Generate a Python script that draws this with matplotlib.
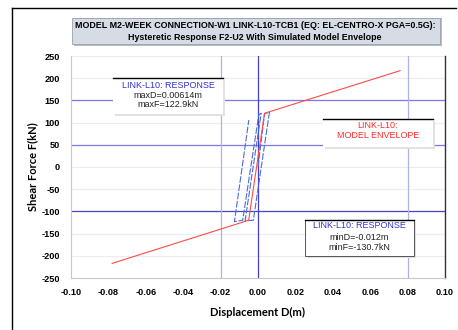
import matplotlib
matplotlib.use("Agg")
import matplotlib.pyplot as plt
from matplotlib.lines import Line2D
from matplotlib.patches import Rectangle

# ---------------- data ----------------
env_D = [-0.078, -0.005, 0.0035, 0.076]
env_F = [-217, -120, 121, 217]

hyst_D = [0.0, 0.0035, 0.0061, -0.0025, -0.0069, 0.0017, 0.0004, -0.0082, -0.0126, -0.0049]
hyst_F = [0.0, 120, 123, -120, -121, 121, 117, -120, -123, 106]

x_ticks = [-0.10, -0.08, -0.06, -0.04, -0.02, 0.00, 0.02, 0.04, 0.06, 0.08, 0.10]
y_ticks = [-250, -200, -150, -100, -50, 0, 50, 100, 150, 200, 250]

title1 = "MODEL M2-WEEK CONNECTION-W1 LINK-L10-TCB1 (EQ: EL-CENTRO-X PGA=0.5G):"
title2 = "Hysteretic Response F2-U2 With Simulated Model Envelope"

max_lines = ["LINK-L10: RESPONSE", "maxD=0.00614m", "maxF=122.9kN"]
env_lines = ["LINK-L10:", "MODEL ENVELOPE"]
min_lines = ["LINK-L10: RESPONSE", "minD=-0.012m", "minF=-130.7kN"]

# ---------------- figure ----------------
W, H = 458, 330
fig = plt.figure(figsize=(W / 100, H / 100), dpi=100)
fig.patch.set_facecolor("white")

def fx(px):
    return px / W

def fy(py):
    return 1 - py / H

# outer border
fig.add_artist(Line2D([fx(12), fx(12)], [fy(8), fy(331)], color="black", lw=1.0))
fig.add_artist(Line2D([fx(12), fx(456)], [fy(8), fy(8)], color="black", lw=1.0))

AX_L, AX_R, AX_T, AX_B = 71, 445, 56, 278
ax = fig.add_axes([fx(AX_L), fy(AX_B), fx(AX_R) - fx(AX_L), fy(AX_T) - fy(AX_B)])
ax.set_xlim(-0.10, 0.10)
ax.set_ylim(-250, 250)

tick_font = dict(family=["Liberation Sans Narrow", "Liberation Sans", "DejaVu Sans"],
                 weight="bold", size=6.6)
ax.set_xticks(x_ticks)
ax.set_xticklabels([f"{v:.2f}" for v in x_ticks], fontdict=tick_font)
ax.set_yticks(y_ticks)
ax.set_yticklabels([str(v) for v in y_ticks], fontdict=tick_font)
ax.tick_params(axis="x", length=0, pad=7)
ax.tick_params(axis="y", length=0, pad=8)

ax.spines["top"].set_visible(False)
ax.spines["left"].set_color("#c8c8c8")
ax.spines["bottom"].set_color("#c8c8c8")
ax.spines["right"].set_color("#333333")
ax.spines["right"].set_linewidth(1.0)

# faint grid
for v in y_ticks:
    ax.axhline(v, color="#ececf6", lw=0.8, zorder=0)

# reference lines
ax.axhline(150, color="#7a7ae0", lw=0.9, zorder=1)
ax.axhline(50, color="#7a7ae0", lw=0.9, zorder=1)
ax.axhline(-100, color="#4848c4", lw=0.9, zorder=1)
ax.axvline(0.0, color="#4040c8", lw=0.9, zorder=1)
ax.axvline(-0.02, color="#b0b0ee", lw=0.9, zorder=1)
ax.axvline(0.08, color="#b0b0ee", lw=0.9, zorder=1)

# data
ax.plot(hyst_D, hyst_F, color="#4a6fd6", lw=0.8, ls=(0, (6, 1.5)), zorder=3)
ax.plot(env_D, env_F, color="#ff4a4a", lw=0.8, zorder=4)

label_font = ["Lato", "DejaVu Sans"]
ax.set_xlabel("Displacement D(m)", family=label_font, weight="bold", size=8)
ax.xaxis.set_label_coords(0.5, (fy(307) - fy(AX_B)) / (fy(AX_T) - fy(AX_B)))
ax.set_ylabel("Shear Force F(kN)", family=label_font, weight="bold", size=8)
ax.yaxis.set_label_coords((fx(38) - fx(AX_L)) / (fx(AX_R) - fx(AX_L)), 0.5)

# title box
fig.add_artist(Rectangle((fx(74), fy(46)), fx(442) - fx(74), fy(18) - fy(46),
                         facecolor="#b8bcc4", edgecolor="none", transform=fig.transFigure, zorder=1))
fig.add_artist(Rectangle((fx(72), fy(44)), fx(440) - fx(72), fy(18) - fy(44),
                         facecolor="#d6dce6", edgecolor="#9aa0aa", lw=0.6, transform=fig.transFigure, zorder=2))
title_font = dict(family=["Liberation Sans Narrow", "Liberation Sans", "DejaVu Sans"], weight="bold", size=6.4)
fig.text(fx(255), fy(26), title1, ha="center", va="center", zorder=3, **title_font)
fig.text(fx(255), fy(37), title2, ha="center", va="center", zorder=3, **title_font)

ann_font = ["Liberation Sans", "DejaVu Sans"]

def box(x0, y0, x1, y1, full_border, lines, colors, ys):
    fig.add_artist(Rectangle((fx(x0 + 2), fy(y1 + 2)), fx(x1) - fx(x0), fy(y0) - fy(y1),
                             facecolor="#e2e2e2", edgecolor="none", transform=fig.transFigure, zorder=5))
    fig.add_artist(Rectangle((fx(x0), fy(y1)), fx(x1) - fx(x0), fy(y0) - fy(y1),
                             facecolor="white",
                             edgecolor="#555555" if full_border else "none",
                             lw=0.7, transform=fig.transFigure, zorder=6))
    fig.add_artist(Line2D([fx(x0), fx(x1)], [fy(y0), fy(y0)], color="black", lw=1.0, zorder=7))
    cx = (x0 + x1) / 2
    for t, c, yy in zip(lines, colors, ys):
        fig.text(fx(cx), fy(yy), t, ha="center", va="center", color=c,
                 family=ann_font, size=6.5, zorder=8)

box(113, 78, 223, 114, False, max_lines, ["#3333cc", "#222222", "#222222"], [85, 95, 105])
box(323, 119, 433, 147, False, env_lines, ["#ff2a2a", "#ff2a2a"], [126, 136])
box(305, 220, 414, 256, True, min_lines, ["#3333cc", "#222222", "#222222"], [226, 237, 248])

fig.savefig("out.png", dpi=100)
